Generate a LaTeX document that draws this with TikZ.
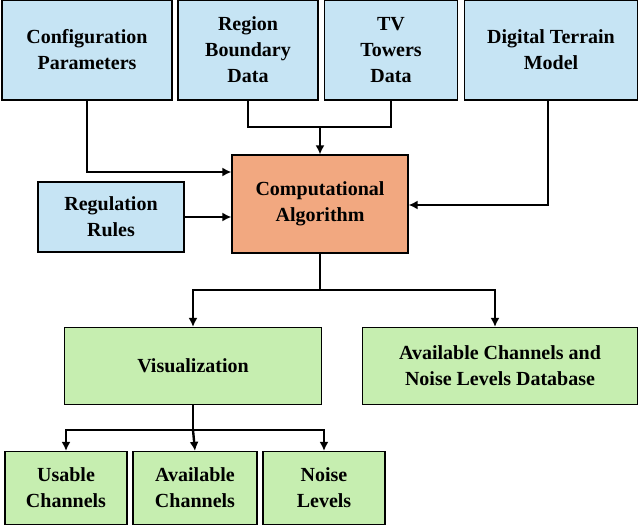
\documentclass[tikz,border=0pt]{standalone}
\usepackage{fontspec}
\setmainfont{Liberation Serif}
\usetikzlibrary{arrows.meta}
\definecolor{bluebox}{RGB}{198,228,244}
\definecolor{orangebox}{RGB}{242,168,128}
\definecolor{greenbox}{RGB}{198,238,176}
\begin{document}
\begin{tikzpicture}[x=1pt,y=-1pt,
  box/.style={draw=black,line width=1.2pt,align=center,inner sep=0pt,
    font=\fontsize{20}{26}\selectfont\bfseries},
  arr/.style={line width=2.4pt,-{Latex[length=9pt,width=9pt]}},
  ln/.style={line width=2.4pt}]
\useasboundingbox (0,0) rectangle (640,530);
\node[box,fill=bluebox,minimum width=170,minimum height=100] (cfg) at (87,50) {Configuration\\Parameters};
\node[box,fill=bluebox,minimum width=140,minimum height=100] (reg) at (248,50) {Region\\Boundary\\Data};
\node[box,fill=bluebox,minimum width=133,minimum height=100] (tv) at (391,50) {TV\\Towers\\Data};
\node[box,fill=bluebox,minimum width=173,minimum height=100] (dtm) at (551,50) {Digital Terrain\\Model};
\node[box,fill=orangebox,minimum width=176,minimum height=98] (alg) at (320,204) {Computational\\Algorithm};
\node[box,fill=bluebox,minimum width=146,minimum height=70] (rul) at (111,217) {Regulation\\Rules};
\node[box,fill=greenbox,minimum width=257,minimum height=77] (vis) at (193,366) {Visualization};
\node[box,fill=greenbox,minimum width=275,minimum height=77] (db) at (500,366) {Available Channels and\\Noise Levels Database};
\node[box,fill=greenbox,minimum width=122,minimum height=73] (use) at (66,488) {Usable\\Channels};
\node[box,fill=greenbox,minimum width=124,minimum height=73] (ava) at (195,488) {Available\\Channels};
\node[box,fill=greenbox,minimum width=122,minimum height=73] (noi) at (324,488) {Noise\\Levels};
\coordinate (top) at (320,127);
\coordinate (mid) at (320,290);
\coordinate (low) at (193,430);
\draw[arr] (cfg.south) |- (alg.west |- 0,172);
\draw[ln] (reg.south) |- (tv.south |- top) -- (tv.south);
\draw[arr] (top) -- (alg.north);
\draw[arr] (dtm.south -| 548,0) |- (alg.east |- 0,205);
\draw[arr] (rul.east) -- (alg.west |- rul.east);
\draw[ln] (alg.south) -- (mid);
\draw[arr] (mid) -| (vis.north);
\draw[arr] (mid) -| (db.north -| 495,0);
\draw[ln] (vis.south) -- (low);
\draw[arr] (low) -| (use.north);
\draw[arr] (low) -- (ava.north);
\draw[arr] (low) -| (noi.north);
\end{tikzpicture}
\end{document}
